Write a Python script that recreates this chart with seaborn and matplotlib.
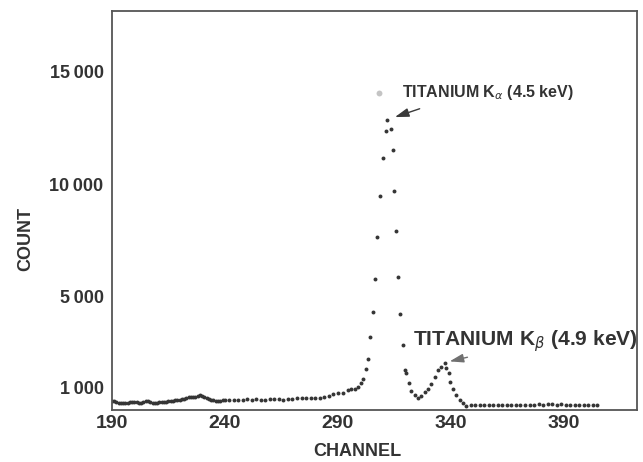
import matplotlib
matplotlib.use("Agg")
import matplotlib.pyplot as plt
import seaborn as sns
import pandas as pd

# Low-energy background, one reading per channel
bg_channels = list(range(190, 240))
bg_counts = [400, 370, 340, 300, 270, 280, 300, 300, 320, 340,
             345, 330, 310, 300, 320, 360, 375, 350, 310, 300,
             310, 330, 330, 320, 350, 370, 380, 400, 420, 430,
             440, 460, 480, 510, 535, 550, 560, 570, 620, 640,
             600, 540, 500, 460, 440, 420, 400, 390, 395, 405]

# Background leading up to the peaks, every second channel
pre_channels = [240, 242, 244, 246, 248, 250, 252, 254, 256, 258, 260, 262, 264,
                266, 268, 270, 272, 274, 276, 278, 280, 282, 284, 286, 288]
pre_counts = [420, 430, 440, 430, 440, 450, 440, 450, 440, 440, 450, 460, 450,
              440, 450, 470, 490, 500, 490, 510, 530, 520, 560, 600, 670]

# Titanium K-alpha and K-beta lines
peak_channels = [290.2, 292.4, 294.6, 296.1, 297.6, 299.1, 300.5, 301.3, 302.4, 303.5,
                 304.3, 305.5, 306.4, 307.6, 308.6, 310.0, 311.6, 311.9, 313.5, 314.5,
                 314.8, 315.7, 316.7, 317.6, 319.0, 319.7, 320.4, 321.6, 322.6, 324.1,
                 325.6, 327.1, 328.5, 330.0, 331.5, 333.0, 334.4, 335.9, 337.4, 338.1,
                 339.3, 339.9, 341.1, 342.6, 344.0, 345.5, 347.0]
peak_counts = [714, 744, 848, 893, 920, 1012, 1190, 1339, 1786, 2232,
               3230, 4340, 5790, 7680, 9500, 11190, 12380, 12840, 12460, 11520,
               9700, 7950, 5880, 4240, 2860, 1750, 1600, 1160, 830, 640,
               490, 600, 780, 930, 1150, 1450, 1750, 1900, 2060, 1830,
               1600, 1230, 930, 650, 420, 280, 150]

# High-energy tail
tail_channels = [349, 351, 353, 355, 357, 359, 361, 363, 365, 367, 369, 371, 373, 375, 377,
                 379, 381, 383, 385, 387, 389, 391, 393, 395, 397, 399, 401, 403, 405]
tail_counts = [220, 200, 210, 190, 200, 210, 190, 200, 210, 200, 190, 210, 220, 200, 210,
               230, 220, 240, 230, 220, 230, 210, 220, 200, 210, 190, 200, 180, 190]

# Faint reading at the top of the K-alpha line
faint_channel = [308.3]
faint_count = [14060]

x_ticks = [190, 240, 290, 340, 390]
y_ticks = [1000, 5000, 10000, 15000]
y_tick_labels = ["1\u2009000", "5\u2009000", "10\u2009000", "15\u2009000"]

spectrum = pd.DataFrame({
    "channel": bg_channels + pre_channels + peak_channels + tail_channels,
    "count": bg_counts + pre_counts + peak_counts + tail_counts,
})
faint = pd.DataFrame({"channel": faint_channel, "count": faint_count})

sns.set_theme(style="white")
plt.rcParams["font.family"] = ["Liberation Sans", "DejaVu Sans"]

ink = "#333333"
frame = "#555555"

fig = plt.figure(figsize=(6.43, 4.62), dpi=100)
ax = fig.add_axes([0.174, 0.1136, 0.817, 0.8625])

sns.scatterplot(data=spectrum, x="channel", y="count", ax=ax,
                s=8, color="#353535", linewidth=0, legend=False)
sns.scatterplot(data=faint, x="channel", y="count", ax=ax,
                s=18, color="#c4c4c4", linewidth=0, legend=False)

ax.set_xlim(190, 422.7)
ax.set_ylim(0, 17700)

ax.set_xticks(x_ticks)
ax.set_xticklabels([str(t) for t in x_ticks])
ax.set_yticks(y_ticks)
ax.set_yticklabels(y_tick_labels)

ax.tick_params(axis="x", direction="in", length=6, width=1.3, color=frame,
               labelsize=14, labelcolor=ink, pad=4)
ax.tick_params(axis="y", direction="out", length=4, width=1.3, color=frame,
               labelsize=13, labelcolor=ink, pad=2)
for lab in ax.get_xticklabels() + ax.get_yticklabels():
    lab.set_fontweight("bold")

for sp in ax.spines.values():
    sp.set_visible(True)
    sp.set_color(frame)
    sp.set_linewidth(1.3)

ax.set_xlabel("CHANNEL", fontsize=13, fontweight="bold", color=ink)
ax.set_ylabel("COUNT", fontsize=13, fontweight="bold", color=ink)
ax.xaxis.set_label_coords(0.467, -0.084)
ax.yaxis.set_label_coords(-0.148, 0.428)

ax.text(318.5, 14070, r"TITANIUM K$_\alpha$ (4.5 keV)", fontsize=11.5,
        fontweight="bold", color=ink, ha="left", va="center")
ax.annotate("", xy=(314.2, 12950), xytext=(327.5, 13400),
            arrowprops=dict(arrowstyle="-|>,head_length=0.7,head_width=0.22",
                            color="#3a3a3a", lw=1.0))

ax.text(323.2, 3030, r"TITANIUM K$_\beta$ (4.9 keV)", fontsize=15.1,
        fontweight="bold", color=ink, ha="left", va="center")
ax.annotate("", xy=(338.4, 2110), xytext=(348.7, 2350),
            arrowprops=dict(arrowstyle="-|>,head_length=0.7,head_width=0.22",
                            color="#707070", lw=1.0))

fig.savefig("out.png", dpi=100)
